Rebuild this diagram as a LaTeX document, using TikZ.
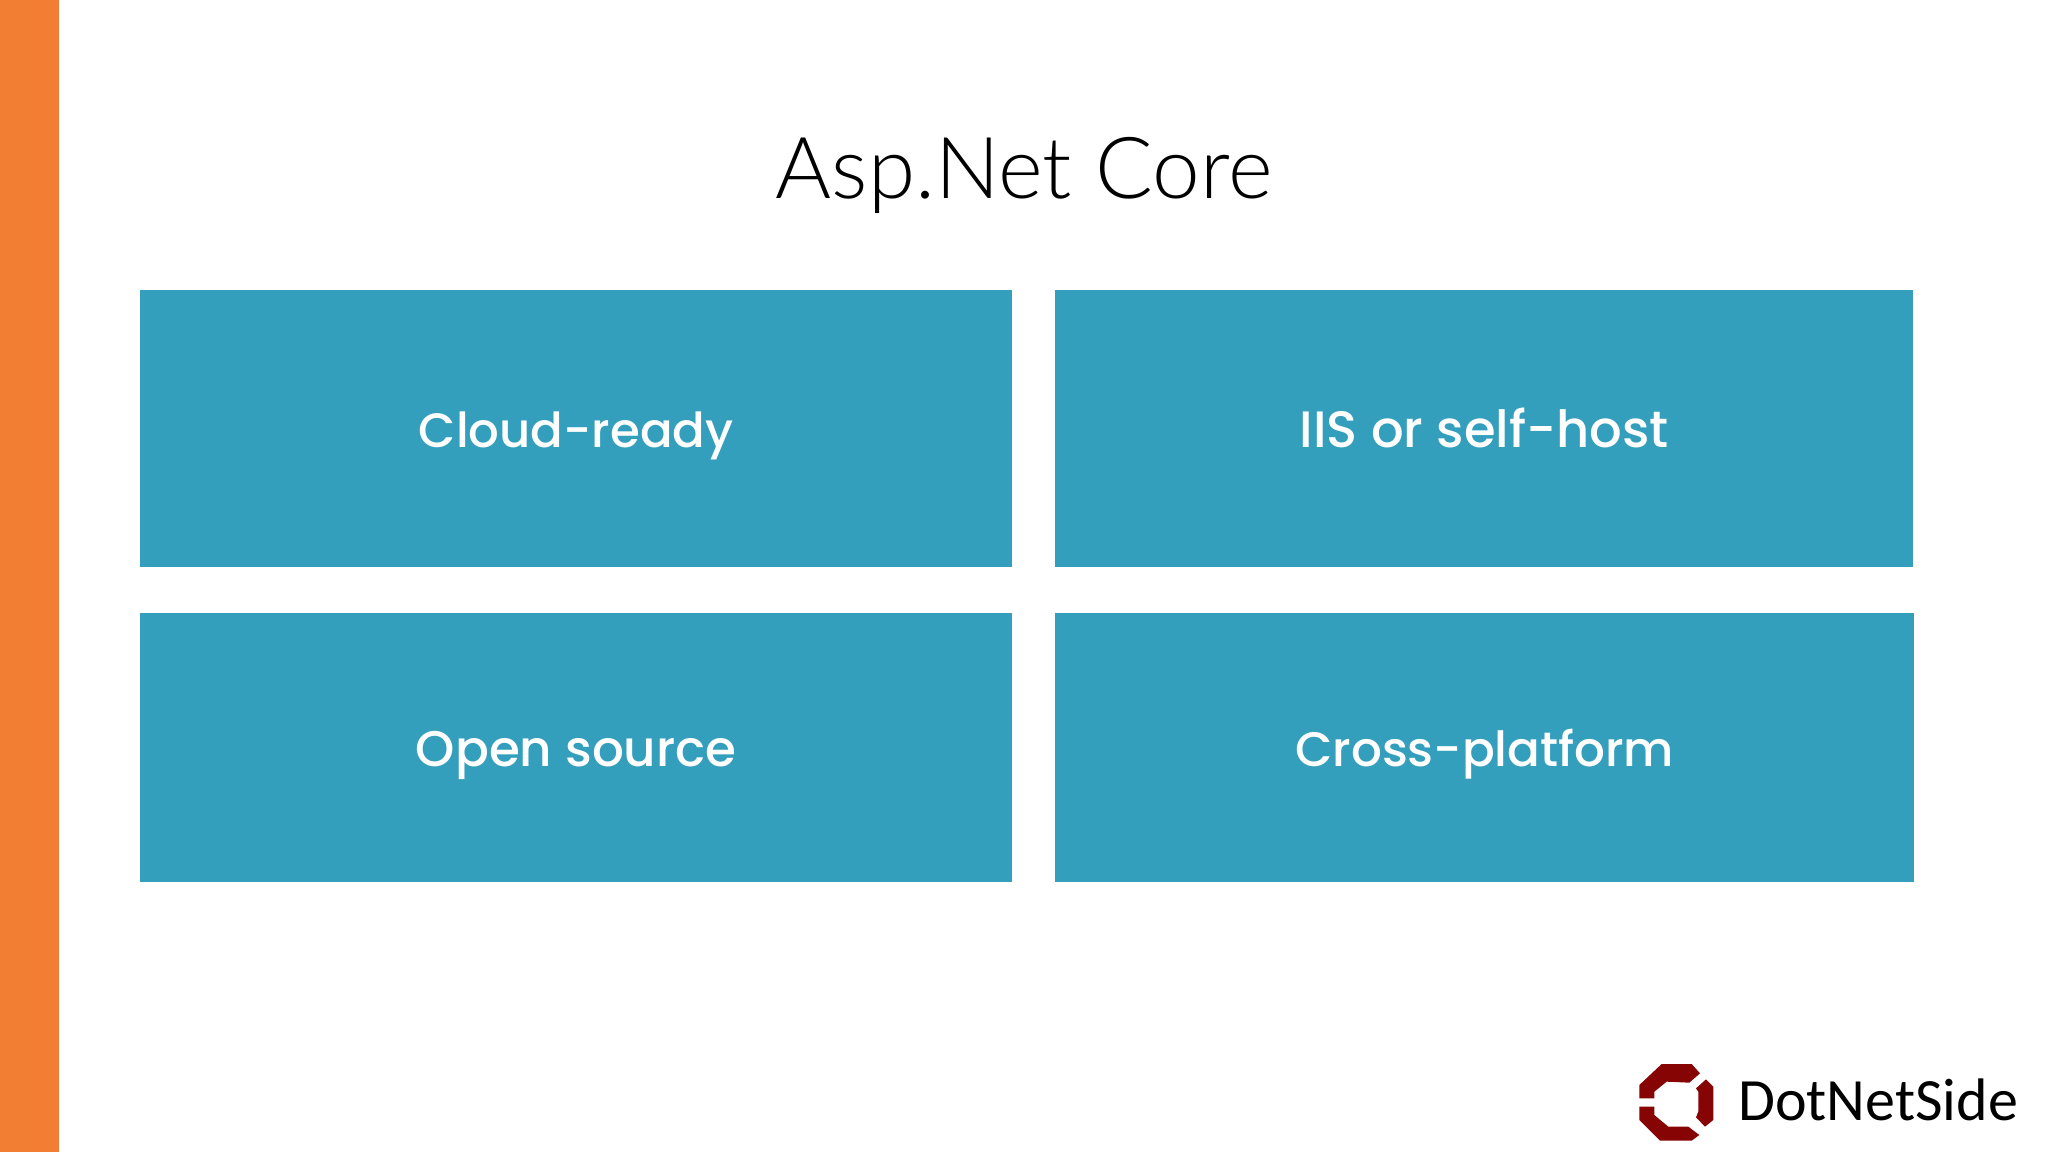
\documentclass[tikz,border=0pt]{standalone}
\usepackage{fontspec}
\setmainfont{Carlito}
\newfontfamily\boxfont[UprightFont=* Medium]{Poppins}
\newfontfamily\titlefont[UprightFont=* Light]{Lato}
\definecolor{barorange}{HTML}{F17E33}
\definecolor{tealbox}{HTML}{349FBC}
\definecolor{logored}{HTML}{870404}
\tikzset{
  tile/.style={fill=tealbox,draw=none,inner sep=0pt,text=white,font=\boxfont\fontsize{#1}{50}\selectfont,anchor=north west,text height=42pt,text depth=5pt},
  logopiece/.style={fill=logored,draw=none}
}
\begin{document}
\begin{tikzpicture}[x=1pt,y=-1pt]
\useasboundingbox (0,0) rectangle (2048,1152);
\fill[white] (0,0) rectangle (2048,1152);
\fill[barorange] (0,0) rectangle (59,1152);
\node[font=\titlefont\fontsize{85.5}{88}\selectfont,text=black,inner sep=0pt,anchor=base] (title) at (1024,198) {Asp.Net Core};
\node[tile=48.2,minimum width=872pt,minimum height=277pt] (cloud) at (140,290) {Cloud-ready};
\node[tile=51.2,minimum width=858pt,minimum height=277pt] (iis) at (1055,290) {IIS or self-host};
\node[tile=50,minimum width=872pt,minimum height=269pt] (open) at (140,613) {Open source};
\node[tile=48.4,minimum width=859pt,minimum height=269pt] (cross) at (1055,613) {Cross-platform};
\begin{scope}[shift={(1600,1040)},x=0.3333pt,y=-0.3333pt]
\fill[logopiece] (118,175)--(118,135)--(185,72)--(275,72)--(300,100)--(268,128)--(200,125)--(163,155)--(163,175)--cycle;
\fill[logopiece] (118,200)--(163,200)--(163,225)--(205,260)--(265,260)--(298,285)--(275,302)--(180,302)--(118,240)--cycle;
\fill[logopiece] (318,118)--(340,140)--(340,240)--(315,260)--(288,232)--(295,215)--(295,155)--(288,145)--cycle;
\end{scope}
\node[font=\fontsize{60}{60}\selectfont,text=black,inner sep=0pt,anchor=base west] (brand) at (1738,1120) {DotNetSide};
\end{tikzpicture}
\end{document}
